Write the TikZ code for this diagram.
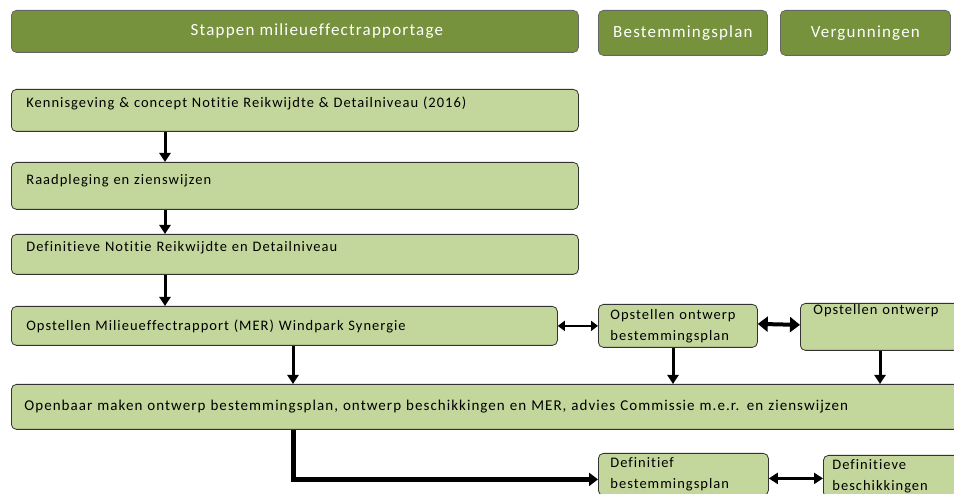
\documentclass[tikz,border=0pt]{standalone}
\usepackage{fontspec}
\setmainfont{Carlito}[Ligatures=NoCommon,LetterSpace=7]
\usetikzlibrary{arrows.meta}

\definecolor{kopgroen}{HTML}{76923C}
\definecolor{stapgroen}{HTML}{C3D69B}

\begin{document}
\begin{tikzpicture}[x=1pt,y=-1pt]
		\clip (0,0) rectangle (954,494);
		\coordinate (kolA) at (165,0);
		\coordinate (kolB) at (293,0);
		\coordinate (kolC) at (673,0);
		\coordinate (kolD) at (880,0);

		% kopjes
		\begin{scope}[every node/.style={rectangle,rounded corners=5pt,anchor=north west,
		              fill=kopgroen,draw=black!60,line width=0.8pt,text=white,
		              font=\fontsize{17}{20}\selectfont,inner sep=0pt}]
		    \node[minimum width=567pt,minimum height=42pt] (kopmer) at (11,10) {\hspace*{44pt}Stappen milieueffectrapportage};
		    \node[minimum width=169pt,minimum height=45pt] (kopbp) at (598,10) {Bestemmingsplan};
		    \node[minimum width=170pt,minimum height=45pt] (kopverg) at (780,10) {Vergunningen};
		\end{scope}

		% stappen
		\begin{scope}[every node/.style={rectangle,rounded corners=5pt,anchor=north west,
		              fill=stapgroen,draw=black!80,line width=0.8pt,align=left,
		              font=\fontsize{14.5}{21}\selectfont,inner xsep=15pt,inner ysep=0pt}]
		    \node[text width=537pt,text height=18pt,text depth=24pt] (kennis) at (11,89) {Kennisgeving \& concept Notitie Reikwijdte \& Detailniveau (2016)};
		    \node[text width=537pt,text height=22pt,text depth=25pt] (raad) at (11,162) {Raadpleging en zienswijzen};
		    \node[text width=537pt,text height=17pt,text depth=23pt] (defnot) at (11,234) {Definitieve Notitie Reikwijdte en Detailniveau};
		    \node[text width=516pt,text height=24pt,text depth=15pt] (mer) at (11,306) {Opstellen Milieueffectrapport (MER) Windpark Synergie};
		    \node[text width=929pt,text height=26pt,text depth=19pt,inner xsep=13pt,
		          font=\fontsize{15}{21}\selectfont] (openbaar) at (11,384) {Openbaar maken ontwerp bestemmingsplan, ontwerp beschikkingen en MER, advies Commissie m.e.r. en zienswijzen};
		    \node[text width=135pt,minimum height=43pt,inner xsep=12pt] (ontbp) at (598,304) {Opstellen ontwerp\\bestemmingsplan};
		    \node[text width=150pt,text height=11pt,text depth=36pt,inner xsep=13pt] (ontverg) at (800,303) {Opstellen ontwerp};
		    \node[text width=146pt,minimum height=42pt,inner xsep=12pt] (defbp) at (598,453) {Definitief\\bestemmingsplan};
		    \node[text width=150pt,minimum height=42pt,inner xsep=9pt] (defbes) at (823,455) {Definitieve\\beschikkingen};
		\end{scope}

		% pijlen
		\begin{scope}[>={Triangle[length=9pt,width=11pt]},line width=3pt]
		    \draw[->] (kennis.south -| kolA) -- (raad.north -| kolA);
		    \draw[->] (raad.south -| kolA) -- (defnot.north -| kolA);
		    \draw[->] (defnot.south -| kolA) -- (mer.north -| kolA);
		    \draw[->] (mer.south -| kolB) -- (openbaar.north -| kolB);
		    \draw[->] (ontbp.south -| kolC) -- (openbaar.north -| kolC);
		    \draw[->] (ontverg.south -| kolD) -- (openbaar.north -| kolD);
		    \draw[<->,line width=2.5pt,>={Triangle[length=7pt,width=10pt]}] (mer.east) -- (ontbp.west);
		    \draw[<->,line width=4pt,>={Triangle[length=10pt,width=15pt]}] ([yshift=2pt]ontbp.east) -- ([yshift=2pt]ontverg.west);
		    \draw[<->] ([yshift=-4pt]defbp.east) -- ([yshift=-2pt]defbes.west);
		    \draw[->,line width=5pt,>={Triangle[length=9pt,width=13pt]}] (openbaar.south -| kolB) |- ([yshift=-5pt]defbp.west);
		\end{scope}
\end{tikzpicture}
\end{document}
